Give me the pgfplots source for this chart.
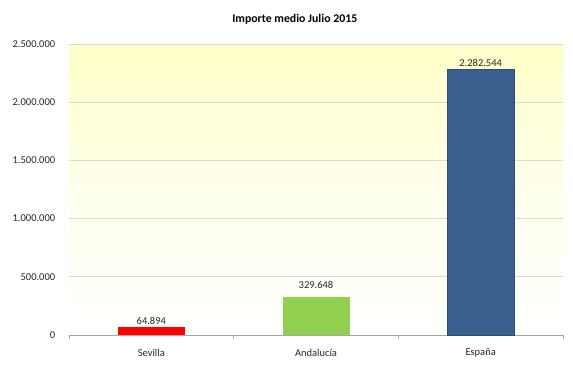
\documentclass[border=0pt]{standalone}
\usepackage{pgfplots}
\pgfplotsset{compat=1.18}
\usepackage{fontspec}
\setmainfont{Carlito}
\definecolor{gridc}{HTML}{D9D9D9}
\definecolor{axc}{HTML}{A6A6A6}
\definecolor{cred}{HTML}{FF0000}
\definecolor{cgreen}{HTML}{92D050}
\definecolor{cblue}{HTML}{3A5E8E}
\definecolor{bgy}{HTML}{FFFFC8}
\begin{document}
\begin{tikzpicture}[x=1pt,y=1pt]
\path[use as bounding box] (0,0) rectangle (573,367);
\begin{axis}[
  at={(69pt,32pt)}, anchor=south west,
  scale only axis, width=494pt, height=291pt,
  xmin=-0.5, xmax=2.5, ymin=0, ymax=2500000,
  ytick={0,500000,1000000,1500000,2000000,2500000},
  scaled y ticks=false,
  /pgf/number format/.cd, fixed, precision=0, 1000 sep={.}, assume math mode=true,
  /pgfplots/.cd,
  xtick={0,1,2}, xticklabels={Sevilla,Andalucía,España},
  minor xtick={-0.5,0.5,1.5,2.5},
  xtick style={draw=none},
  minor x tick style={draw=axc, line width=0.6pt},
  minor tick length=4pt,
  tick align=outside,
  ytick style={draw=none},
  ymajorgrids, major grid style={draw=gridc, line width=0.8pt},
  axis x line*=bottom, axis y line*=left,
  x axis line style={draw=axc, line width=0.8pt, -},
  y axis line style={draw=none},
  axis background/.style={top color=bgy, bottom color=white, middle color=bgy!35},
  tick label style={font=\fontsize{10.5}{12}\selectfont, text=black!85},
  xticklabel style={yshift=-6pt},
  yticklabel style={xshift=-6pt},
  title={\bfseries Importe medio Julio 2015},
  title style={font=\fontsize{11.8}{13}\selectfont, at={(0.457,1)}, yshift=10pt},
  ybar, bar width=67pt, bar shift=0pt,
  nodes near coords,
  every node near coord/.append style={font=\fontsize{10.5}{12}\selectfont, text=black!85, yshift=-1pt},
  clip=false,
]
\addplot[fill=cred, draw=none] coordinates {(0,64894)};
\addplot[fill=cgreen, draw=none, every node near coord/.append style={yshift=6pt}] coordinates {(1,329648)};
\addplot[fill=cblue, draw=cblue!80!black, line width=0.5pt] coordinates {(2,2282544)};
\end{axis}
\end{tikzpicture}
\end{document}
